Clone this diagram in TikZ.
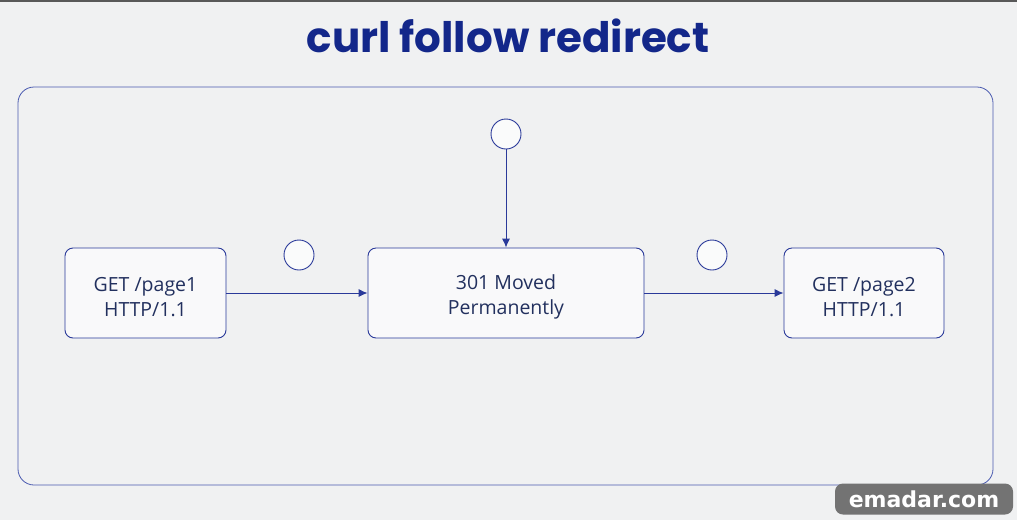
\documentclass[tikz,border=0pt]{standalone}
\usepackage{fontspec}
\setmainfont{Open Sans}
\newfontfamily\titlefont{Poppins}
\newfontfamily\wmfont{DejaVu Sans}
\usetikzlibrary{arrows.meta}
\definecolor{bg}{HTML}{F0F1F2}
\definecolor{navy}{HTML}{13278A}
\definecolor{linec}{HTML}{2A3A9A}
\definecolor{txt}{HTML}{22305E}
\definecolor{framec}{HTML}{4A5AB0}
\tikzset{
  x=1pt,y=-1pt,
  boxstyle/.style={draw=linec, line width=0.9pt, rounded corners=8pt, fill=white!60!bg, align=center, text=txt, font=\fontsize{19.5}{25}\selectfont, inner sep=0pt},
  dot/.style={circle, draw=linec, line width=0.9pt, fill=white!70!bg, minimum size=30pt, inner sep=0pt},
  conn/.style={draw=linec, line width=0.9pt, -{Latex[length=9pt,width=8pt]}}
}
\begin{document}
\begin{tikzpicture}
\fill[bg] (0,0) rectangle (1017,520);
\useasboundingbox (0,0) rectangle (1017,520);
\fill[black!65] (0,0) rectangle (1017,2);
\node[text=navy, font=\titlefont\fontsize{42}{48}\selectfont\bfseries] (title) at (508,36) {curl follow redirect};
\draw[draw=framec, line width=0.8pt, rounded corners=16pt] (18,87) rectangle (993,485);
\node[boxstyle, minimum width=161pt, minimum height=90pt] (b1) at (145.5,293) {};
\node[boxstyle, minimum width=276pt, minimum height=90pt] (b2) at (506,293) {};
\node[boxstyle, minimum width=160pt, minimum height=90pt] (b3) at (864,293) {};
\node[align=center, text=txt, font=\fontsize{19.5}{25}\selectfont] (t1) at ([yshift=-4pt]b1.center) {GET /page1\\HTTP/1.1};
\node[align=center, text=txt, font=\fontsize{19.5}{25}\selectfont] (t2) at ([yshift=-4pt]b2.center) {301 Moved\\Permanently};
\node[align=center, text=txt, font=\fontsize{19.5}{25}\selectfont] (t3) at ([yshift=-4pt]b3.center) {GET /page2\\HTTP/1.1};
\node[dot] (c1) at (299,255) {};
\node[dot] (c2) at (506,134) {};
\node[dot] (c3) at (712,255) {};
\draw[conn] (b1) -- (b2);
\draw[conn] (b2) -- (b3);
\draw[conn] (c2) -- (b2);
\node[fill=black!55, rounded corners=8pt, text=white, font=\wmfont\bfseries\fontsize{22}{24}\selectfont, minimum width=178pt, minimum height=31pt, inner sep=0pt] (wm) at (924,499) {emadar.com};
\end{tikzpicture}
\end{document}
